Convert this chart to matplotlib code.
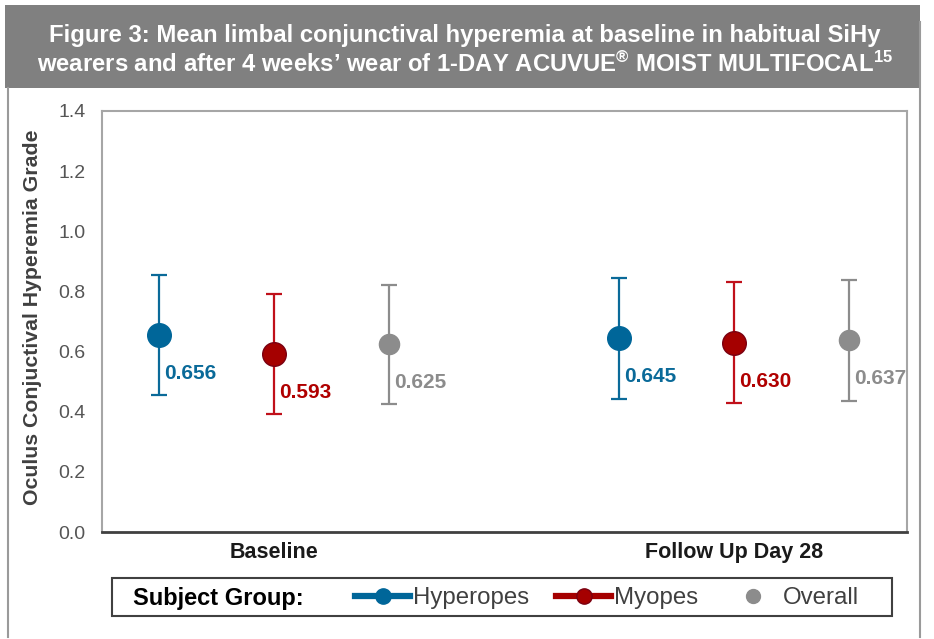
import matplotlib
matplotlib.use("Agg")
import matplotlib.pyplot as plt
from matplotlib.lines import Line2D
from matplotlib.patches import Rectangle

plt.rcParams['font.family'] = ['Liberation Sans', 'DejaVu Sans']
plt.rcParams['mathtext.fontset'] = 'custom'
plt.rcParams['mathtext.bf'] = 'Liberation Sans:bold'
plt.rcParams['mathtext.rm'] = 'Liberation Sans:bold'
plt.rcParams['mathtext.default'] = 'bf'

# data
visits = ["Baseline", "Follow Up Day 28"]
groups = ["Hyperopes", "Myopes", "Overall"]
means = {
    "Hyperopes": [0.656, 0.645],
    "Myopes": [0.593, 0.630],
    "Overall": [0.625, 0.637],
}
errs = {
    "Hyperopes": [0.200, 0.201],
    "Myopes": [0.199, 0.200],
    "Overall": [0.198, 0.200],
}
yticks = [0.0, 0.2, 0.4, 0.6, 0.8, 1.0, 1.2, 1.4]

line_col = {"Hyperopes": "#0A6A99", "Myopes": "#C0101A", "Overall": "#8C8C8C"}
face_col = {"Hyperopes": "#006699", "Myopes": "#A50000", "Overall": "#8C8C8C"}
edge_col = {"Hyperopes": "#006699", "Myopes": "#7A0010", "Overall": "#8C8C8C"}
text_col = {"Hyperopes": "#0A6A99", "Myopes": "#B00000", "Overall": "#8C8C8C"}
msize = {"Hyperopes": 17, "Myopes": 17, "Overall": 14.5}
offsets = [-0.25, 0.0, 0.25]

fig = plt.figure(figsize=(9.34, 6.39), dpi=100)

# title banner
fig.patches.append(Rectangle((0.0054, 0.8623), 0.98, 0.1299, transform=fig.transFigure,
                             facecolor="#808080", edgecolor="none", zorder=0))
fig.text(0.498, 0.921, "Figure 3: Mean limbal conjunctival hyperemia at baseline in habitual SiHy\n"
         "wearers and after 4 weeks\u2019 wear of 1-DAY ACUVUE$^{\u00ae}$ MOIST MULTIFOCAL$^{15}$",
         color="white", fontsize=17.2, fontweight="bold", ha="center", va="center",
         linespacing=1.27)
# outer frame sides
fig.lines.append(Line2D([8 / 934, 8 / 934], [1 - 88 / 639, 0.003], transform=fig.transFigure,
                        color="#9A9A9A", lw=1.5))
fig.lines.append(Line2D([920 / 934, 920 / 934], [1 - 22 / 639, 0.003], transform=fig.transFigure,
                        color="#9A9A9A", lw=1.5))

ax = fig.add_axes([0.1092, 0.1674, 0.8619, 0.6589])
for i, g in enumerate(groups):
    xs = [k + offsets[i] for k in range(len(visits))]
    ax.errorbar(xs, means[g], yerr=errs[g], fmt="none", ecolor=line_col[g],
                elinewidth=1.6, capsize=6, capthick=1.6, zorder=2)
    ax.plot(xs, means[g], linestyle="none", marker="o", markersize=msize[g],
            markerfacecolor=face_col[g], markeredgecolor=edge_col[g],
            markeredgewidth=1, zorder=3)
    for x, m in zip(xs, means[g]):
        ax.annotate(f"{m:.3f}", (x, m - 0.128), xytext=(4, 0), textcoords="offset points",
                    ha="left", va="center", fontsize=15, fontweight="bold",
                    color=text_col[g])

ax.set_xlim(-0.374, 1.376)
ax.set_ylim(0, 1.4)
ax.set_yticks(yticks)
ax.set_yticklabels([f"{t:.1f}" for t in yticks], fontsize=14, color="#555555")
ax.set_xticks(range(len(visits)))
ax.set_xticklabels(visits, fontsize=15.5, fontweight="bold", color="#1A1A1A")
ax.tick_params(axis="both", length=0)
ax.tick_params(axis="y", pad=12)
ax.tick_params(axis="x", pad=7)
for s in ["left", "top", "right"]:
    ax.spines[s].set_color("#A6A6A6")
    ax.spines[s].set_linewidth(1.5)
ax.spines["bottom"].set_color("#404040")
ax.spines["bottom"].set_linewidth(2)
ax.set_ylabel("Oculus Conjuctival Hyperemia Grade", fontsize=15.3, fontweight="bold",
              color="#404040")
ax.yaxis.set_label_coords(-0.075, 0.51)

# legend
fig.patches.append(Rectangle((112 / 934, 1 - 616 / 639), 780 / 934, 38 / 639,
                             transform=fig.transFigure, facecolor="white",
                             edgecolor="#404040", lw=1.5, zorder=0))
fig.text(133 / 934, 1 - 598 / 639, "Subject Group:", fontsize=17, fontweight="bold",
         color="black", ha="left", va="center")
handles = [
    Line2D([0], [0], color=face_col["Hyperopes"], lw=4.5, marker="o", markersize=11),
    Line2D([0], [0], color=face_col["Myopes"], lw=4.5, marker="o", markersize=11,
           markeredgecolor=edge_col["Myopes"]),
    Line2D([0], [0], color=face_col["Overall"], linestyle="none", marker="o", markersize=10),
]
leg = fig.legend(handles, groups, loc="center left", bbox_to_anchor=(355 / 934, 1 - 598 / 639),
                 ncol=3, frameon=False, fontsize=17.3, handlelength=2.3, handletextpad=0.13,
                 columnspacing=1.1, borderpad=0, borderaxespad=0)
for t in leg.get_texts():
    t.set_color("#404040")

fig.savefig("out.png", dpi=100)
